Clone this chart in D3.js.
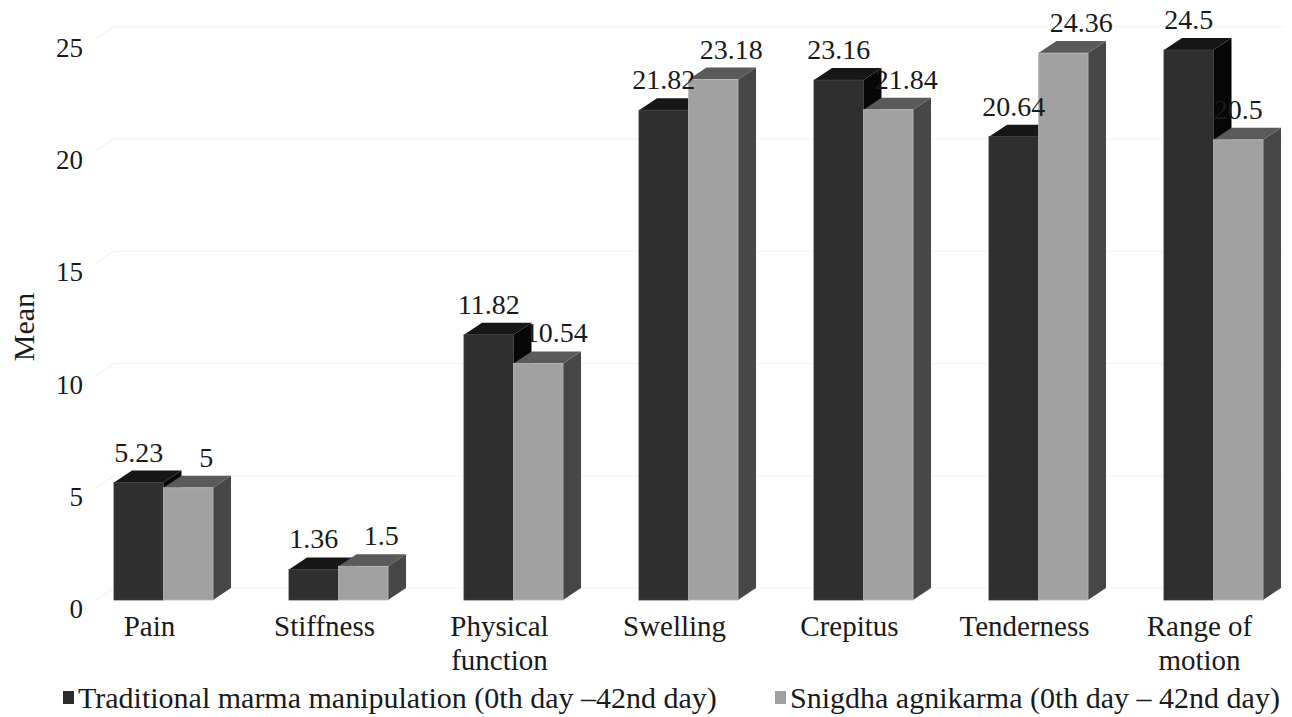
<!DOCTYPE html>
<html>
<head>
<meta charset="utf-8">
<script src="https://cdn.jsdelivr.net/npm/d3@7"></script>
</head>
<body style="margin:0">
<svg id="chart" width="1292" height="717"></svg>
<script>
// Mean scores per assessment parameter, two treatment groups
const categories = ["Pain", "Stiffness", "Physical function", "Swelling", "Crepitus", "Tenderness", "Range of motion"];
const categoryLines = [["Pain"], ["Stiffness"], ["Physical", "function"], ["Swelling"], ["Crepitus"], ["Tenderness"], ["Range of", "motion"]];
const marmaValues = [5.23, 1.36, 11.82, 21.82, 23.16, 20.64, 24.5];
const agnikarmaValues = [5, 1.5, 10.54, 23.18, 21.84, 24.36, 20.5];
const seriesNames = [
  "Traditional marma manipulation (0th day \u201342nd day)",
  "Snigdha agnikarma (0th day \u2013 42nd day)"
];
const yTicks = [0, 5, 10, 15, 20, 25];
const yTitle = "Mean";

const FONT = '"Liberation Serif"';
const INK = "#1a1a1a";

const svg = d3.select("#chart");

// oblique depth of the 3D columns
const depthX = 18, depthY = 12;

const y = d3.scaleLinear().domain([0, 25]).range([600, 600 - 25 * 22.45]);
const x = d3.scaleBand().domain(categories).range([76, 1301]).paddingInner(0.434).paddingOuter(0.217);
const seriesKeys = ["marma", "agnikarma"];
const xs = d3.scaleBand().domain(seriesKeys).range([0, x.bandwidth()]);

const palette = {
  marma:     { front: "#2f2f2f", top: "#161616", side: "#060606", edge: "#3c3c3c", swatch: "#2b2b2b" },
  agnikarma: { front: "#a1a1a1", top: "#5a5a5a", side: "#474747", edge: "#b9b9b9", swatch: "#a0a0a0" }
};

const rows = categories.map((c, i) => ({
  category: c,
  marma: marmaValues[i],
  agnikarma: agnikarmaValues[i]
}));

function styleText(sel, size) {
  return sel.style("font-family", FONT).attr("font-size", size).attr("fill", INK);
}

// faint walls: side wall diagonals and back wall lines
const wallLeft = 96, wallRight = 1284;
const grid = svg.append("g");
yTicks.forEach(t => {
  grid.append("line")
    .attr("x1", wallLeft).attr("y1", y(t))
    .attr("x2", wallLeft + depthX).attr("y2", y(t) - depthY)
    .attr("stroke", "#eeeeee").attr("stroke-width", 1);
  grid.append("line")
    .attr("x1", wallLeft + depthX).attr("y1", y(t) - depthY)
    .attr("x2", wallRight).attr("y2", y(t) - depthY)
    .attr("stroke", "#f3f3f3").attr("stroke-width", 1);
});

// y tick labels
yTicks.forEach(t => {
  styleText(svg.append("text"), 27)
    .attr("x", 83).attr("y", y(t) + 18)
    .attr("text-anchor", "end")
    .text(d3.format("d")(t));
});

// axis title
styleText(svg.append("text"), 30)
  .attr("transform", "translate(34,327) rotate(-90)")
  .attr("text-anchor", "middle")
  .text(yTitle);

// 3D columns
const bars = svg.append("g");
rows.forEach(r => {
  seriesKeys.forEach(k => {
    const col = palette[k];
    const x0 = x(r.category) + xs(k);
    const x1 = x0 + xs.bandwidth();
    const yt = y(r[k]);
    const yb = y(0);
    const g = bars.append("g");
    // right side face
    g.append("path")
      .attr("d", `M${x1},${yb} L${x1 + depthX},${yb - depthY} L${x1 + depthX},${yt - depthY} L${x1},${yt} Z`)
      .attr("fill", col.side);
    // top face
    g.append("path")
      .attr("d", `M${x0},${yt} L${x0 + depthX},${yt - depthY} L${x1 + depthX},${yt - depthY} L${x1},${yt} Z`)
      .attr("fill", col.top);
    // front face
    g.append("rect")
      .attr("x", x0).attr("y", yt)
      .attr("width", xs.bandwidth()).attr("height", yb - yt)
      .attr("fill", col.front)
      .attr("stroke", col.edge).attr("stroke-width", 0.8);
  });
});

// value labels: first series over the column face, second over its back edge,
// kept inside the plot on the right
const plotRight = 1264;
rows.forEach(r => {
  seriesKeys.forEach(k => {
    const x0 = x(r.category) + xs(k);
    const txt = String(r[k]);
    const approxW = txt.length * 28 * 0.46;
    let cx = x0 + xs.bandwidth() / 2 + (k === "agnikarma" ? depthX : 0);
    cx = Math.min(cx, plotRight - approxW / 2);
    styleText(svg.append("text"), 28)
      .attr("x", cx)
      .attr("y", y(r[k]) - depthY - 9)
      .attr("text-anchor", "middle")
      .text(txt);
  });
});

// category labels
categories.forEach((c, i) => {
  const cx = x(c) + x.bandwidth() / 2 - 14;
  const t = styleText(svg.append("text"), 29)
    .attr("x", cx).attr("y", 636)
    .attr("text-anchor", "middle");
  categoryLines[i].forEach((ln, j) => {
    t.append("tspan").attr("x", cx).attr("dy", j === 0 ? 0 : 34).text(ln);
  });
});

// legend
const legendItems = [
  { name: seriesNames[0], key: "marma", x: 63 },
  { name: seriesNames[1], key: "agnikarma", x: 775 }
];
legendItems.forEach(it => {
  svg.append("rect")
    .attr("x", it.x).attr("y", 691)
    .attr("width", 11).attr("height", 13)
    .attr("fill", palette[it.key].swatch);
  styleText(svg.append("text"), 30)
    .attr("x", it.x + 15).attr("y", 708)
    .text(it.name);
});
</script>
</body>
</html>
